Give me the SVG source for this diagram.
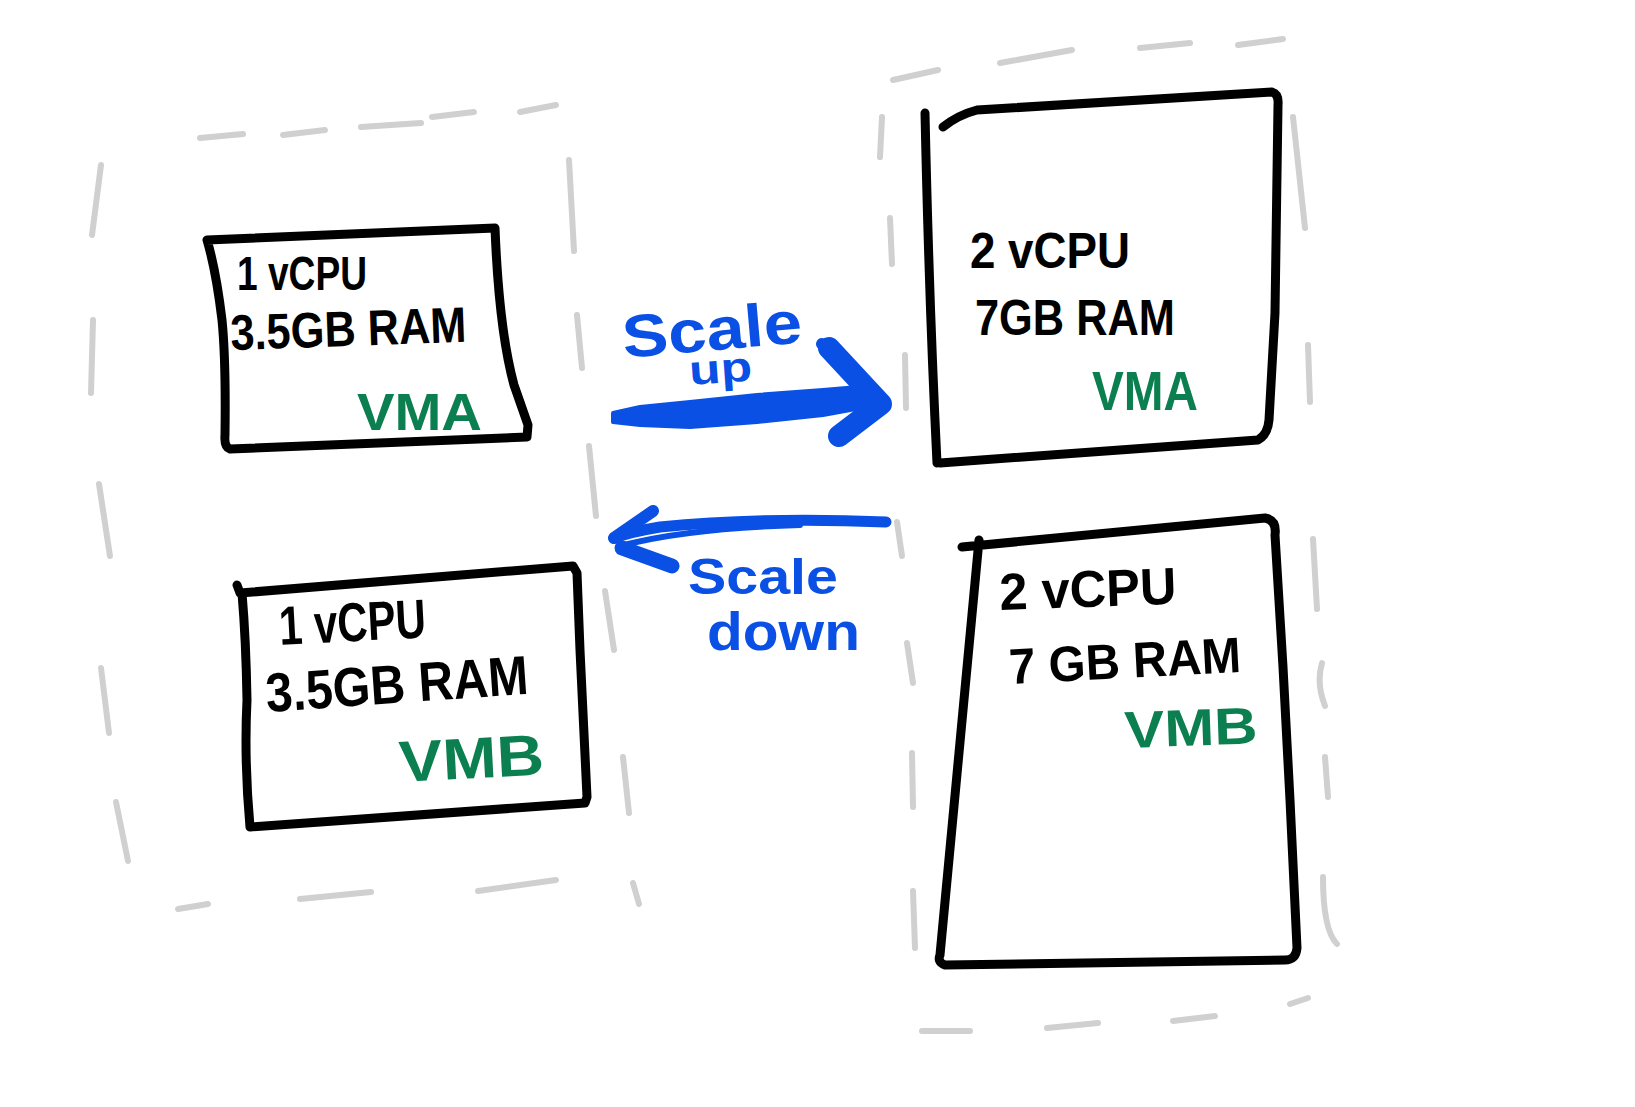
<svg xmlns="http://www.w3.org/2000/svg" width="1635" height="1107" viewBox="0 0 1635 1107">
<style>
.dash{fill:none;stroke:#d0d0d0;stroke-width:6;stroke-linecap:round}
.box{fill:none;stroke:#000;stroke-width:9;stroke-linejoin:round;stroke-linecap:round}
.t{font-family:"Liberation Sans",Arial,sans-serif;font-weight:bold;fill:#000}
.g{font-family:"Liberation Sans",Arial,sans-serif;font-weight:bold;fill:#0b7f4f}
.b{font-family:"Liberation Sans",Arial,sans-serif;font-weight:bold;fill:#0a50e4}
.arr{fill:none;stroke:#0a50e4;stroke-linecap:round;stroke-linejoin:round}
</style>
<rect width="1635" height="1107" fill="#fff"/>
<g id="host-left">
<path class="dash" d="M200,138 L243,134 M283,135 L325,130 M361,127 L421,123 M432,117 L474,112 M520,112 L556,105 M101,165 L92,235 M93,320 L91,393 M99,484 L110,556 M101,668 L109,733 M116,802 L128,861 M178,909 L208,904 M300,899 L371,892 M478,891 L556,880 M569,160 L574,251 M577,315 L582,368 M589,446 L596,516 M605,591 L614,650 M623,757 L629,813 M633,883 L639,904"/>
</g>
<g id="host-right">
<path class="dash" d="M893,80 L938,70 M1000,63 L1072,50 M1140,48 L1190,43 M1238,45 L1283,39 M882,117 L880,157 M890,218 L892,264 M905,355 L906,408 M897,522 L902,556 M907,643 L913,683 M912,753 L913,807 M913,891 L915,948 M1293,117 L1305,228 M1308,345 L1310,402 M1313,539 L1317,609 M1322,663 Q1316,683 1325,706 M1325,757 L1328,797 M1323,877 Q1323,930 1337,944 M922,1031 L970,1031 M1047,1028 L1098,1023 M1173,1021 L1215,1016 M1290,1004 L1308,998"/>
</g>
<g id="vma-small">
<path class="box" d="M207,240 L495,228 Q499,330 514,385 L528,425 L527,437 L230,449 Q224,447 225,435 Q226,360 222,320 Q216,270 207,240 Z"/>
<text class="t" x="237" y="290" font-size="48" textLength="130" lengthAdjust="spacingAndGlyphs">1 vCPU</text>
<text class="t" x="231" y="350" font-size="50" textLength="236" lengthAdjust="spacingAndGlyphs" transform="rotate(-2 231 350)">3.5GB RAM</text>
<text class="g" x="357" y="430" font-size="52" textLength="125" lengthAdjust="spacingAndGlyphs">VMA</text>
</g>
<g id="vmb-small">
<path class="box" d="M237,585 L240,593 L573,566 L577,573 L580,650 L587,797 L585,803 L250,827 Q244,760 247,700 Q246,640 242,593"/>
<text class="t" x="280" y="645" font-size="55" textLength="147" lengthAdjust="spacingAndGlyphs" transform="rotate(-3 280 645)">1 vCPU</text>
<text class="t" x="267" y="712" font-size="55" textLength="263" lengthAdjust="spacingAndGlyphs" transform="rotate(-4 267 712)">3.5GB RAM</text>
<text class="g" x="400" y="782" font-size="58" textLength="145" lengthAdjust="spacingAndGlyphs" transform="rotate(-3 400 782)">VMB</text>
</g>
<g id="vma-large">
<path class="box" d="M943,127 Q958,115 977,110 L1272,92 Q1279,94 1278,105 L1275,313 L1269,420 Q1268,434 1258,440 L940,463 M925,113 Q929,300 937,463"/>
<text class="t" x="970" y="268" font-size="50" textLength="160" lengthAdjust="spacingAndGlyphs">2 vCPU</text>
<text class="t" x="975" y="335" font-size="50" textLength="200" lengthAdjust="spacingAndGlyphs">7GB RAM</text>
<text class="g" x="1092" y="410" font-size="56" textLength="106" lengthAdjust="spacingAndGlyphs">VMA</text>
</g>
<g id="vmb-large">
<path class="box" d="M962,547 L1265,518 Q1277,520 1275,535 L1283,667 L1290,800 L1297,948 Q1296,960 1285,960 L945,965 Q937,962 940,955 Q958,760 979,540"/>
<text class="t" x="1000" y="610" font-size="52" textLength="177" lengthAdjust="spacingAndGlyphs" transform="rotate(-2 1000 610)">2 vCPU</text>
<text class="t" x="1010" y="684" font-size="50" textLength="232" lengthAdjust="spacingAndGlyphs" transform="rotate(-3 1010 684)">7 GB RAM</text>
<text class="g" x="1125" y="748" font-size="52" textLength="133" lengthAdjust="spacingAndGlyphs" transform="rotate(-2 1125 748)">VMB</text>
</g>
<g id="connectors">
<g id="scale-up">
<path d="M613,413 L640,407 L690,402 L757,395 L823,390 L870,386 Q880,393 872,406 L823,415 L757,422 L690,427 L640,425 L613,422 Z" fill="#0a50e4" stroke="#0a50e4" stroke-width="4" stroke-linejoin="round"/>
<path class="arr" stroke-width="22" d="M829,348 L881,404 L839,436"/>
<path class="arr" stroke-width="12" d="M822,344 L835,350"/>
<text class="b" x="624" y="358" font-size="60" textLength="180" lengthAdjust="spacingAndGlyphs" transform="rotate(-5 624 358)">Scale</text>
<text class="b" x="690" y="385" font-size="42" textLength="63" lengthAdjust="spacingAndGlyphs" transform="rotate(-4 690 385)">up</text>
</g>
<g id="scale-down">
<path class="arr" stroke-width="11" d="M886,522 Q760,517 660,527 Q630,532 614,538"/>
<path class="arr" stroke-width="6" d="M624,545 Q690,528 800,525"/>
<path class="arr" stroke-width="12" d="M653,511 L614,538"/>
<path class="arr" stroke-width="15" d="M622,548 L672,566"/>
<text class="b" x="688" y="594" font-size="50" textLength="150" lengthAdjust="spacingAndGlyphs">Scale</text>
<text class="b" x="707" y="650" font-size="54" textLength="153" lengthAdjust="spacingAndGlyphs">down</text>
</g>
</g>
</svg>
